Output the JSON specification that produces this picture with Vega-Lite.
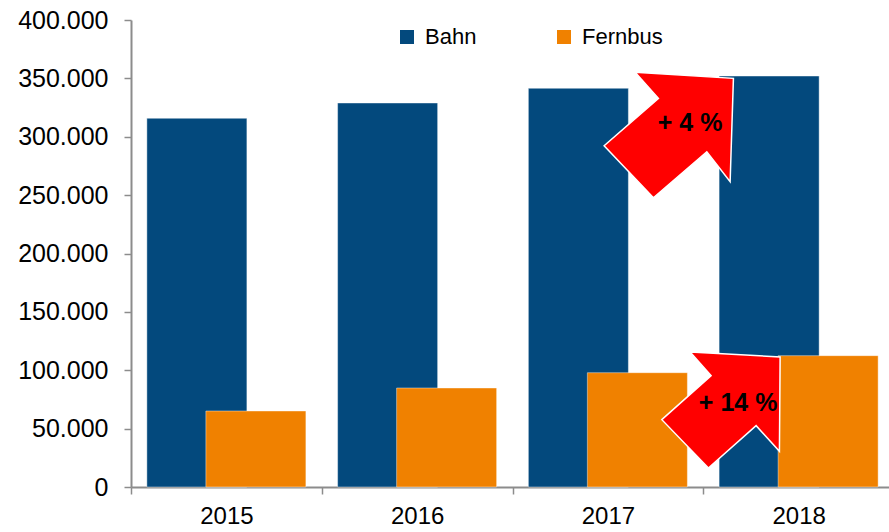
{
  "$schema": "https://vega.github.io/schema/vega-lite/v6.json",
  "autosize": {"type": "none"},
  "padding": {"left": 131, "top": 20, "right": 0, "bottom": 45},
  "width": 758,
  "height": 467,
  "background": "white",
  "config": {"view": {"stroke": null}, "axis": {"grid": false}},
  "data": {
    "values": [
      {"year": "2015", "series": "Bahn", "value": 315800},
      {"year": "2016", "series": "Bahn", "value": 328900},
      {"year": "2017", "series": "Bahn", "value": 341500},
      {"year": "2018", "series": "Bahn", "value": 352000},
      {"year": "2015", "series": "Fernbus", "value": 65100},
      {"year": "2016", "series": "Fernbus", "value": 84800},
      {"year": "2017", "series": "Fernbus", "value": 97900},
      {"year": "2018", "series": "Fernbus", "value": 112500}
    ]
  },
  "encoding": {
    "x": {
      "field": "year",
      "type": "nominal",
      "scale": {"range": [0, 763], "paddingInner": 0, "paddingOuter": 0},
      "axis": {
        "title": null,
        "labelAngle": 0,
        "labelFont": "Liberation Sans",
        "labelFontSize": 24,
        "labelColor": "#000",
        "tickBand": "extent",
        "tickSize": 7,
        "tickColor": "#8c8c8c",
        "tickWidth": 1.5,
        "domainColor": "#8c8c8c",
        "domainWidth": 2,
        "labelPadding": 10
      }
    },
    "y": {
      "field": "value",
      "type": "quantitative",
      "scale": {"domain": [0, 400000], "nice": false},
      "axis": {
        "title": null,
        "values": [0, 50000, 100000, 150000, 200000, 250000, 300000, 350000, 400000],
        "labelExpr": "replace(format(datum.value, ','), ',', '.')",
        "labelFont": "Liberation Sans",
        "labelFontSize": 25,
        "labelColor": "#000",
        "tickSize": 7,
        "tickColor": "#8c8c8c",
        "tickWidth": 1.5,
        "domainColor": "#8c8c8c",
        "domainWidth": 2,
        "labelPadding": 16
      }
    }
  },
  "layer": [
    {
      "transform": [{"filter": "datum.series === 'Bahn'"}],
      "mark": {"type": "bar", "width": {"band": 0.5244}, "xOffset": -29.5, "stroke": "white", "strokeWidth": 0.7, "strokeOpacity": 0.6},
      "encoding": {
        "color": {
          "field": "series",
          "type": "nominal",
          "scale": {"domain": ["Bahn", "Fernbus"], "range": ["#03497D", "#F08100"]},
          "legend": {
            "title": null,
            "orient": "none",
            "legendX": 265,
            "legendY": 6,
            "direction": "horizontal",
            "symbolType": "square",
            "symbolSize": 196,
            "symbolStrokeWidth": 0,
            "labelFont": "Liberation Sans",
            "labelFontSize": 22,
            "labelColor": "#000",
            "labelOffset": 7,
            "columnPadding": 76,
            "padding": 0
          }
        }
      }
    },
    {
      "transform": [{"filter": "datum.series === 'Fernbus'"}],
      "mark": {"type": "bar", "width": {"band": 0.5244}, "xOffset": 29.5, "stroke": "white", "strokeWidth": 0.7, "strokeOpacity": 0.6},
      "encoding": {
        "color": {"field": "series", "type": "nominal"}
      }
    },
    {
      "transform": [{"filter": "datum.year === '2018' && datum.series === 'Bahn'"}],
      "mark": {
        "type": "point",
        "shape": "M-163.5,-3.7L-65.2,2.3L-68.5,105.7L-91.8,75.7L-145.2,121.7L-194.5,69.7L-140.2,22.3Z",
        "size": 4,
        "filled": true,
        "fill": "#FF0000",
        "stroke": "white",
        "strokeWidth": 1.5,
        "opacity": 1
      }
    },
    {
      "transform": [{"filter": "datum.year === '2018' && datum.series === 'Fernbus'"}],
      "mark": {
        "type": "point",
        "shape": "M-108.5,-3.7L-18.5,1.3L-19.2,95.7L-42.5,70L-90.2,112.3L-136.8,64L-87.5,20Z",
        "size": 4,
        "filled": true,
        "fill": "#FF0000",
        "stroke": "white",
        "strokeWidth": 1.5,
        "opacity": 1
      }
    },
    {
      "transform": [{"filter": "datum.year === '2018' && datum.series === 'Bahn'"}],
      "mark": {"type": "text", "text": "+ 4 %", "dx": -108.5, "dy": 47, "font": "Liberation Sans", "fontSize": 25, "fontWeight": "bold", "color": "#000", "align": "center", "baseline": "middle"}
    },
    {
      "transform": [{"filter": "datum.year === '2018' && datum.series === 'Fernbus'"}],
      "mark": {"type": "text", "text": "+ 14 %", "dx": -60.5, "dy": 47, "font": "Liberation Sans", "fontSize": 25, "fontWeight": "bold", "color": "#000", "align": "center", "baseline": "middle"}
    }
  ]
}
